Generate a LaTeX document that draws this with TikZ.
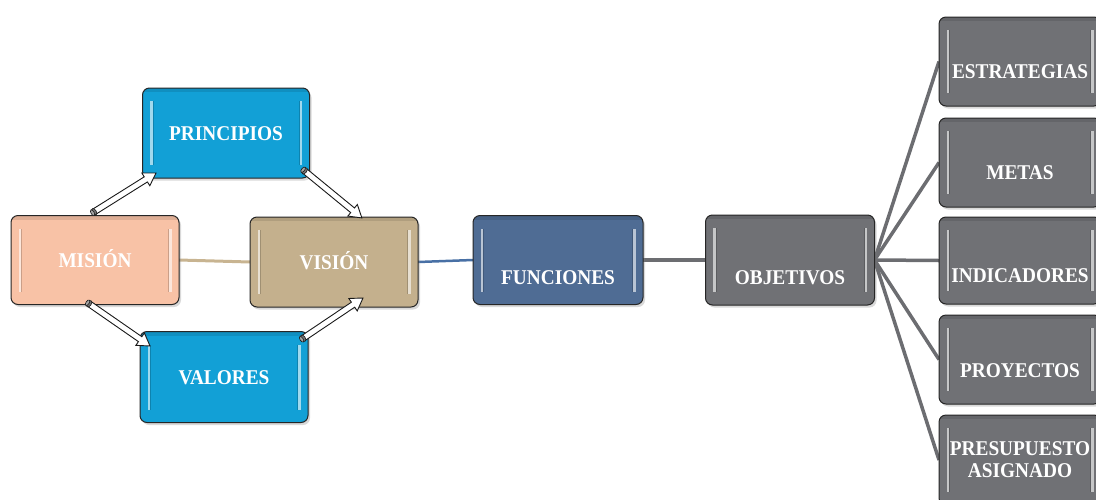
\documentclass[tikz,border=0pt]{standalone}
\usepackage{fontspec}
\newfontfamily\boxfont[FakeStretch=0.92]{Liberation Serif}
\usetikzlibrary{shadows,backgrounds,calc}

\definecolor{cprinc}{RGB}{18,160,214}
\definecolor{cmision}{RGB}{248,194,166}
\definecolor{cvision}{RGB}{196,176,141}
\definecolor{cfunc}{RGB}{79,108,148}
\definecolor{cobj}{RGB}{112,113,117}
\definecolor{ltan}{RGB}{200,180,145}
\definecolor{lblue}{RGB}{72,112,165}
\definecolor{lgray}{RGB}{108,109,113}

\begin{document}
\begin{tikzpicture}[x=1pt,y=-1pt,
  card/.style={draw=black!85, line width=1pt, rounded corners=7pt, fill=#1,
    text=white, font=\boxfont\bfseries\fontsize{21}{22}\selectfont,
    inner sep=0pt, outer sep=0pt, align=center,
    drop shadow={opacity=0.3, shadow xshift=2pt, shadow yshift=-2.5pt},
    path picture={
      \begin{scope}[rounded corners=0pt]
        % bevel strips near the left and right edges
        \fill[white, opacity=.6]
          ([xshift=7.5pt,yshift=-13pt]path picture bounding box.north west) rectangle
          ([xshift=10pt,yshift=13pt]path picture bounding box.south west);
        \fill[black, opacity=.18]
          ([xshift=10pt,yshift=-13pt]path picture bounding box.north west) rectangle
          ([xshift=11pt,yshift=13pt]path picture bounding box.south west);
        \fill[white, opacity=.6]
          ([xshift=-7.5pt,yshift=-13pt]path picture bounding box.north east) rectangle
          ([xshift=-10pt,yshift=13pt]path picture bounding box.south east);
        \fill[black, opacity=.18]
          ([xshift=-10pt,yshift=-13pt]path picture bounding box.north east) rectangle
          ([xshift=-11pt,yshift=13pt]path picture bounding box.south east);
        % soft darker rim along the top edge
        \fill[black, opacity=.10]
          (path picture bounding box.north west) rectangle
          ([yshift=-4pt]path picture bounding box.north east);
      \end{scope}
    }},
  oneline/.style={text height=#1, text depth=0pt},
  oneline/.default=14pt,
  hollow/.style={draw=black!90, line width=.9pt, fill=white, line join=miter},
  knob/.style={draw=black!90, fill=black!55, line width=.6pt},
]
\useasboundingbox (0,0) rectangle (1096,499);

% left cluster
\node[card=cprinc, oneline, minimum width=167pt, minimum height=90pt] (principios) at (226,133) {PRINCIPIOS};
\node[card=cmision, oneline, minimum width=168pt, minimum height=89pt] (mision) at (95,260) {MISIÓN};
\node[card=cvision, oneline, minimum width=168pt, minimum height=90pt] (vision) at (334,262) {VISIÓN};
\node[card=cprinc, oneline, minimum width=168pt, minimum height=91pt] (valores) at (224,377) {VALORES};

% middle chain
\node[card=cfunc, oneline=48pt, minimum width=170pt, minimum height=89pt] (funciones) at (558,260) {FUNCIONES};
\node[card=cobj, oneline=48pt, minimum width=169pt, minimum height=90pt] (objetivos) at (790,260) {OBJETIVOS};

% right column
\node[card=cobj, oneline=34pt, minimum width=162pt, minimum height=89pt] (estrategias) at (1020,61.5) {ESTRATEGIAS};
\node[card=cobj, oneline=34pt, minimum width=162pt, minimum height=89pt] (metas) at (1020,162.5) {METAS};
\node[card=cobj, oneline=44pt, minimum width=162pt, minimum height=87pt] (indicadores) at (1020,260.5) {INDICADORES};
\node[card=cobj, oneline=36pt, minimum width=162pt, minimum height=89pt] (proyectos) at (1020,359.5) {PROYECTOS};
\node[card=cobj, minimum width=162pt, minimum height=90pt] (presupuesto) at (1020,460) {PRESUPUESTO\\ASIGNADO};

% plain connectors behind the cards
\begin{scope}[on background layer]
  \draw[ltan, line width=3pt] (mision.east) -- (vision.west);
  \draw[lblue, line width=2.5pt] (vision.east) -- (funciones.west);
  \draw[lgray, line width=4pt] (funciones.east) -- (objetivos.west);
  \foreach \t in {estrategias,metas,indicadores,proyectos,presupuesto}
    \draw[lgray, line width=3.5pt] (objetivos.east) -- (\t.west);
\end{scope}

% hollow block arrows around the cycle
\coordinate (t1) at ([shift={(-2,-3)}]mision.north);
\coordinate (h1) at ([shift={(13.5,-5)}]principios.south west);
\coordinate (t2) at ([shift={(-6,-8)}]principios.south east);
\coordinate (h2) at ([shift={(28,1)}]vision.north);
\coordinate (t3) at ([shift={(-7,-1.5)}]mision.south);
\coordinate (h3) at ([shift={(10,14.5)}]valores.north west);
\coordinate (t4) at ([shift={(-6,7.5)}]valores.north east);
\coordinate (h4) at ([shift={(29,-9)}]vision.south);

\foreach \a/\b in {t1/h1,t2/h2,t3/h3,t4/h4}{
  \path let \p1=(\a), \p2=(\b) in \pgfextra{%
    \pgfmathparse{atan2(\y2-\y1,\x2-\x1)}\xdef\aang{\pgfmathresult}%
    \pgfmathparse{veclen(\x2-\x1,\y2-\y1)}\xdef\alen{\pgfmathresult}};
  \begin{scope}[shift={(\a)}, rotate=\aang, x=1pt, y=1pt]
    \draw[hollow] (0,-3) -- ({\alen-12},-3) -- ({\alen-12},-7.5) -- (\alen,0)
      -- ({\alen-12},7.5) -- ({\alen-12},3) -- (0,3) -- cycle;
    \draw[knob] (1.5,0) ellipse (2 and 3.6);
    \draw[knob, fill=black!35] (-0.5,0) ellipse (1.6 and 3.2);
  \end{scope}
}
\end{tikzpicture}
\end{document}
